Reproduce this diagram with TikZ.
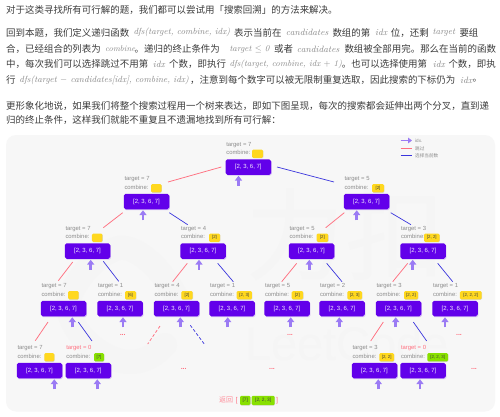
\documentclass[tikz,border=0pt]{standalone}
\usepackage{fontspec}
\usepackage{graphicx}
\newfontfamily\lib{Liberation Sans}
\newfontfamily\cjk{Noto Sans CJK SC}
\usetikzlibrary{arrows.meta,shadows,calc}
\definecolor{panelbg}{HTML}{F7F7F7}
\definecolor{markc}{HTML}{F5F5F5}
\definecolor{boxc}{HTML}{6200EA}
\definecolor{arrowc}{HTML}{9B7BF4}
\definecolor{chipy}{HTML}{FFD81F}
\definecolor{chipg}{HTML}{88E000}
\definecolor{redl}{HTML}{FF7080}
\definecolor{bluel}{HTML}{3A35DD}
\definecolor{labc}{HTML}{8C8C8C}
\definecolor{bodyc}{HTML}{3C3C3C}
\definecolor{mathc}{HTML}{8A8A8A}
\tikzset{
  segtext/.style={anchor=west,inner sep=0pt,text=bodyc,font=\fontsize{9.47}{11}\selectfont\cjk},
  mathtext/.style={anchor=west,inner sep=0pt,text=mathc,font=\fontsize{9}{10}\selectfont\itshape},
  arrbox/.style={draw=none,fill=boxc,rounded corners=1.8pt,minimum width=45.5pt,minimum height=15.5pt,
    inner sep=0pt,text=white!92!boxc,font=\fontsize{6}{7}\selectfont\lib,
    drop shadow={shadow xshift=0.7pt,shadow yshift=-0.9pt,fill=boxc,opacity=0.22}},
  lab/.style={anchor=west,inner sep=0pt,text=labc,font=\fontsize{5.9}{7}\selectfont\lib},
  chip/.style={rounded corners=1.2pt,minimum height=8.2pt,inner sep=0pt,text=black!75,font=\fontsize{4.4}{5}\selectfont\lib,
    drop shadow={shadow xshift=0.4pt,shadow yshift=-0.5pt,fill=black,opacity=0.12}},
  chipyellow/.style={chip,fill=chipy},
  chipgreen/.style={chip,fill=chipg},
  idxarrow/.style={draw=arrowc,line width=2.5pt,-{Triangle[width=7pt,length=4.8pt]}},
  skipline/.style={draw=redl,line width=0.75pt},
  takeline/.style={draw=bluel,line width=0.7pt},
  more/.style={inner sep=0pt,text=redl,font=\fontsize{7}{7}\selectfont\lib\bfseries},
  returntext/.style={inner sep=0pt,text=redl!80!white,font=\fontsize{7}{8}\selectfont\cjk},
}
\newcount\segc
\newcommand{\seg}[3]{\global\advance\segc by 1 \node[segtext] (seg\the\segc) at (#1,#2) {#3};}
% x, y, width, text
\newcommand{\mth}[4]{\global\advance\segc by 1 \node[mathtext] (seg\the\segc) at (#1,#2) {\resizebox{#3pt}{!}{#4}};}
% name, cx, cy, arrow x, target text, chip cx, chip width, chip text, chip style
\newcommand{\treenode}[9]{%
  \node[arrbox] (#1) at (#2,#3) {[2, 3, 6, 7]};
  \node[lab] (#1t) at ({#2-22.2},{#3-22.3}) {#5};
  \node[lab] (#1c) at ({#2-22.2},{#3-14.6}) {combine:};
  \node[#9,minimum width=#7 pt] (#1k) at (#6,{#3-13.3}) {#8};
  \draw[idxarrow] ($(#1.south)+({#4-#2},11)$) -- ($(#1.south)+({#4-#2},0.8)$);
}
% style, parent, parent dx dy from centre, child, child dx dy from centre
\newcommand{\link}[7]{\draw[#1] ($(#2)+(#3,#4)$) -- ($(#5)+(#6,#7)$);}
\begin{document}
\begin{tikzpicture}[x=1pt,y=-1pt]
\useasboundingbox (0,0) rectangle (500,416);
\fill[white] (0,0) rectangle (500,416);
% text
\seg{6}{9.5}{对于这类寻找所有可行解的题，我们都可以尝试用「搜索回溯」的方法来解决。}
\seg{6}{32.7}{回到本题，我们定义递归函数}
\mth{133.3}{32.7}{96.7}{dfs(target, combine, idx)}
\seg{234}{32.7}{表示当前在}
\mth{285.7}{32.7}{42.5}{candidates}
\seg{332.3}{32.7}{数组的第}
\mth{375}{32.7}{12}{idx}
\seg{390.7}{32.7}{位，还剩}
\mth{432.3}{32.7}{22.7}{target}
\seg{459.3}{32.7}{要组}
\seg{6}{49}{合，已经组合的列表为}
\mth{105}{49}{30}{combine}
\seg{134.5}{49}{。递归的终止条件为}
\mth{229.3}{49}{40}{target $\leq$ 0}
\seg{274}{49}{或者}
\mth{296.7}{49}{42.5}{candidates}
\seg{344.3}{49}{数组被全部用完。那么在当前的函数}
\seg{6}{64.3}{中，每次我们可以选择跳过不用第}
\mth{152.7}{64.3}{12}{idx}
\seg{169}{64.3}{个数，即执行}
\mth{229.3}{64.3}{112.4}{dfs(target, combine, idx $+$ 1)}
\seg{341.7}{64.3}{。也可以选择使用第}
\mth{432.7}{64.3}{12}{idx}
\seg{448.3}{64.3}{个数，即执}
\seg{6}{80.3}{行}
\mth{19.3}{80.3}{169.4}{dfs(target $-$ candidates[idx], combine, idx)}
\seg{190}{80.3}{，注意到每个数字可以被无限制重复选取，因此搜索的下标仍为}
\mth{460}{80.3}{12}{idx}
\seg{472.5}{80.3}{。}
\seg{6}{105.7}{更形象化地说，如果我们将整个搜索过程用一个树来表达，即如下图呈现，每次的搜索都会延伸出两个分叉，直到递}
\seg{6}{119.5}{归的终止条件，这样我们就能不重复且不遗漏地找到所有可行解：}
% panel
\fill[panelbg,rounded corners=10pt] (6,135) rectangle (495,411.5);
% watermark
\begin{scope}
\clip[rounded corners=10pt] (6,135) rectangle (495,411.5);
\draw[markc,line width=24pt,line cap=round,line join=round] (178,300) .. controls (160,265) and (135,245) .. (118,248) .. controls (95,255) and (70,285) .. (68,305) .. controls (70,335) and (105,362) .. (130,362) .. controls (145,362) and (155,355) .. (165,345);
\node[inner sep=0pt,text=markc,font=\fontsize{100}{100}\selectfont\cjk] (wm1) at (345,235) {力扣};
\node[inner sep=0pt,text=markc,font=\fontsize{47}{50}\selectfont\lib] (wm2) at (347,344) {LeetCode};
\end{scope}
% tree
\treenode{r}{248.3}{167}{238.5}{target = 7}{257.5}{11}{}{chipyellow}
\treenode{a}{146.5}{201.5}{143}{target = 7}{156.3}{10.5}{}{chipyellow}
\treenode{b}{366.5}{201.5}{356.7}{target = 5}{378}{12}{[2]}{chipyellow}
\treenode{aa}{87.5}{251}{90.7}{target = 7}{97.2}{10.5}{}{chipyellow}
\treenode{ab}{203}{251}{199}{target = 4}{214.5}{11}{[2]}{chipyellow}
\treenode{ba}{311.5}{251}{309.3}{target = 5}{322.4}{11.5}{[2]}{chipyellow}
\treenode{bb}{423}{251}{412.7}{target = 3}{431.8}{15.5}{[2, 2]}{chipyellow}
\treenode{aaa}{63.5}{308.5}{72.3}{target = 7}{73.4}{10.5}{}{chipyellow}
\treenode{aab}{120}{308.5}{123}{target = 1}{130.5}{11}{[6]}{chipyellow}
\treenode{aba}{176.5}{308.5}{180.3}{target = 4}{187}{11.4}{[2]}{chipyellow}
\treenode{abb}{232}{308.5}{227.7}{target = 1}{244.3}{15.3}{[2, 3]}{chipyellow}
\treenode{baa}{287}{308.5}{290.7}{target = 5}{297.4}{11.4}{[2]}{chipyellow}
\treenode{bab}{342}{308.5}{339.3}{target = 2}{354.7}{14.7}{[2, 3]}{chipyellow}
\treenode{bba}{398.5}{308.5}{395.7}{target = 3}{411}{14}{[2, 2]}{chipyellow}
\treenode{bbb}{455}{308.5}{445}{target = 1}{470.8}{21.7}{[2, 2, 2]}{chipyellow}
\treenode{x}{39.5}{370.5}{54.3}{target = 7}{49.3}{10}{}{chipyellow}
\treenode{y}{88.3}{370.5}{97.3}{\textcolor{redl}{target = 0}}{99}{10}{[7]}{chipgreen}
\treenode{u}{374.5}{370.5}{378.3}{target = 3}{386.7}{14.7}{[2, 2]}{chipyellow}
\treenode{v}{423}{370.5}{420}{\textcolor{redl}{target = 0}}{437.7}{20.7}{[2, 2, 3]}{chipgreen}
% connectors
\link{skipline}{r}{-27}{0}{a}{21.5}{-19.5}
\link{takeline}{r}{28.7}{0}{b}{-32.5}{-19.5}
\link{skipline}{a}{-23.8}{11.2}{aa}{15.8}{-23.3}
\link{takeline}{a}{22.8}{11.2}{ab}{-15.3}{-26.3}
\link{skipline}{b}{-22.2}{11.2}{ba}{14.2}{-23.3}
\link{takeline}{b}{24.2}{11.2}{bb}{-12}{-26.3}
\link{skipline}{aa}{-14.8}{11}{aaa}{-5.2}{-27.8}
\link{takeline}{aa}{15.8}{10.3}{aab}{-1.3}{-27.2}
\link{skipline}{ab}{-15.7}{12.3}{aba}{-3.8}{-26.8}
\link{takeline}{ab}{14.7}{12.3}{abb}{1.3}{-26.8}
\link{skipline}{ba}{-14.8}{12.3}{baa}{-5.3}{-26.8}
\link{takeline}{ba}{15.2}{12.3}{bab}{0}{-26.8}
\link{skipline}{bb}{-15.3}{12.3}{bba}{-5.8}{-26.8}
\link{takeline}{bb}{14.7}{12.3}{bbb}{-2.3}{-26.8}
\link{skipline}{aaa}{-15.5}{13.5}{x}{-4.2}{-29.8}
\link{takeline}{aaa}{14.8}{13.5}{y}{3.7}{-29.5}
\link{skipline,densely dashed}{aba}{-16.5}{17.5}{aba}{-28.8}{35.5}
\link{takeline,densely dashed}{aba}{13.8}{16.8}{aba}{27.8}{35.5}
\link{skipline}{bba}{-15.2}{13.5}{u}{-3.8}{-29.5}
\link{takeline}{bba}{14.8}{13.5}{v}{3.7}{-29.5}
% ellipses
\node[more] (m1) at (122.7,335) {...};
\node[more] (m2) at (183.7,368.5) {...};
\node[more] (m3) at (290,335) {...};
\node[more] (m4) at (272,368.5) {...};
\node[more] (m5) at (459,335) {...};
\node[more] (m6) at (474,368.5) {...};
% return
\node[returntext,anchor=west] (ret) at (219,400.3) {返回};
\node[more,font=\fontsize{7}{8}\selectfont\lib] (rl) at (236.7,400.3) {[};
\node[chipgreen,minimum width=10.3pt,minimum height=9.3pt,font=\fontsize{4.8}{5}\selectfont\lib] (r7) at (245.2,400.4) {[7]};
\node[chipgreen,minimum width=23pt,minimum height=9.3pt,font=\fontsize{4.8}{5}\selectfont\lib] (r223) at (263.2,400.4) {[2, 2, 3]};
\node[more,font=\fontsize{7}{8}\selectfont\lib] (rr) at (277,400.3) {]};
% legend
\coordinate (lg1) at (400.7,140.5);
\coordinate (lg1e) at (412,140.5);
\draw[draw=arrowc,line width=1.6pt,-{Triangle[width=5.6pt,length=4pt]}] (lg1) -- (lg1e);
\node[lab,font=\fontsize{4.6}{5}\selectfont\lib] (lgt1) at (415,141) {idx.};
\coordinate (lg2) at (400.7,148.3);
\coordinate (lg2e) at (411.5,148.3);
\draw[skipline] (lg2) -- (lg2e);
\node[lab,font=\fontsize{4.6}{5}\selectfont\cjk] (lgt2) at (415,148.5) {跳过};
\coordinate (lg3) at (400.7,155.5);
\coordinate (lg3e) at (411.5,155.5);
\draw[takeline] (lg3) -- (lg3e);
\node[lab,font=\fontsize{4.6}{5}\selectfont\cjk] (lgt3) at (415,156) {选择当前数};
\end{tikzpicture}
\end{document}
